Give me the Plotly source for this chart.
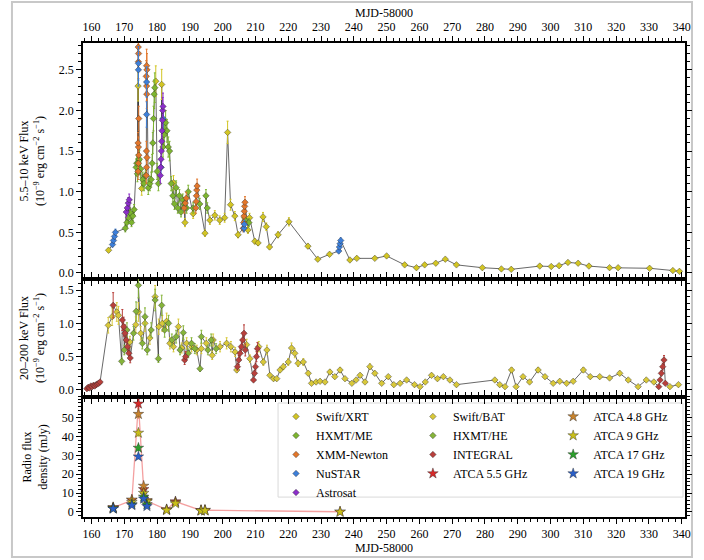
import plotly.graph_objects as go

# ---------------- 5.5-10 keV (top panel) ----------------
xrt_t = [165.2, 174.2, 175.3, 179.6, 181.4, 185.0, 188.5, 191.0, 194.6, 196.1, 197.6, 199.1, 200.6,
         201.5, 202.4, 203.7, 204.7, 206.7, 207.7, 208.2, 209.8, 210.8, 212.3, 213.3, 214.3, 216.9,
         220.2, 226.0, 229.0, 232.6, 238.8, 240.9, 246.4, 250.0, 255.5, 259.1, 261.6, 265.0, 267.9,
         271.3, 279.2, 285.0, 288.0, 296.7, 300.2, 302.6, 305.3, 308.4, 311.7, 318.0, 320.6, 330.2,
         337.3, 339.3]
xrt_v = [0.28, 2.30, 1.04, 2.36, 2.32, 1.11, 0.62, 0.73, 0.49, 0.65, 0.71, 0.65, 0.68,
         1.73, 0.84, 0.70, 0.47, 0.68, 0.53, 0.68, 0.39, 0.37, 0.69, 0.57, 0.32, 0.47,
         0.63, 0.33, 0.17, 0.23, 0.16, 0.18, 0.18, 0.21, 0.10, 0.065, 0.10, 0.12, 0.17,
         0.10, 0.065, 0.05, 0.045, 0.085, 0.08, 0.09, 0.13, 0.12, 0.085, 0.065, 0.065, 0.058,
         0.03, 0.02]

me_t = [170.3, 170.8, 171.3, 171.8, 172.2, 172.6, 173.0, 173.6, 173.8, 174.0, 174.6, 175.0, 175.6,
        176.0, 176.4, 177.3, 177.8, 178.2, 178.5, 178.7, 178.9, 179.1, 179.3, 180.0, 180.4, 181.8,
        182.2, 182.6, 183.0, 183.4, 183.8, 184.3, 184.8, 185.3, 185.8, 186.3, 186.8, 187.3, 187.8,
        188.2, 189.0, 189.5, 191.0, 193.0, 194.9, 195.3, 206.8, 208.0]
me_v = [0.55, 0.62, 0.68, 0.74, 0.62, 0.70, 0.78, 1.30, 1.35, 1.22, 1.40, 1.28, 1.15,
        1.10, 1.20, 1.05, 1.10, 1.15, 1.35, 1.60, 1.90, 2.20, 2.28, 1.25, 1.10, 1.55,
        1.70, 1.85, 1.75, 1.55, 1.50, 1.10, 0.95, 0.85, 1.05, 0.80, 0.95, 0.75, 0.90,
        0.85, 0.80, 1.00, 0.80, 0.85, 0.95, 0.80, 0.65, 0.62]

xmm_t = [174.20, 174.30, 174.40, 174.30, 174.20, 174.40, 174.30, 174.35, 174.25,
         176.70, 176.80, 176.90, 176.75, 176.85, 176.80, 176.70, 176.90, 176.80,
         188.30, 188.60, 188.90,
         191.80, 191.90, 192.00, 192.10, 192.20,
         206.30, 206.40, 206.50, 206.60, 206.70, 206.80]
xmm_v = [1.25, 1.35, 1.45, 1.55, 1.60, 1.90, 2.60, 2.70, 2.78,
         1.20, 1.30, 1.42, 1.50, 2.20, 2.30, 2.42, 2.50, 2.55,
         0.80, 0.86, 0.92,
         0.80, 0.88, 0.95, 1.02, 1.07,
         0.55, 0.62, 0.70, 0.76, 0.82, 0.87]

nustar_t = [166.4, 166.7, 167.0, 167.3, 174.3, 174.3, 176.8, 176.8, 181.2, 181.8, 206.5, 206.6,
            235.4, 235.6, 235.8, 236.0]
nustar_v = [0.35, 0.40, 0.45, 0.50, 2.50, 2.58, 2.35, 1.95, 1.30, 1.90, 0.55, 0.60,
            0.27, 0.32, 0.36, 0.40]

astro_t = [170.6, 170.9, 171.2, 171.5, 181.0, 181.1, 181.2, 181.3, 181.4, 181.5, 181.6, 181.7, 181.8]
astro_v = [0.75, 0.80, 0.86, 0.90, 1.20, 1.30, 1.40, 1.50, 1.62, 1.75, 1.88, 2.00, 2.05]

# ---------------- 20-200 keV (middle panel) ----------------
bat_t = [165.1, 166.3, 167.7, 168.2, 171.7, 173.5, 174.3, 175.0, 176.3, 177.8, 179.4, 180.5, 181.6,
         182.9, 183.9, 185.0, 186.5, 187.5, 189.0, 190.5, 192.1, 193.5, 195.0, 196.8, 197.1, 199.2,
         201.2, 202.5, 203.8, 204.3, 207.3, 208.3, 211.0, 212.4, 213.5, 214.4, 215.5, 216.5, 217.5,
         218.5, 220.0, 221.0, 222.0, 223.0, 224.6, 226.1, 227.1, 228.5, 229.7, 231.2, 232.7, 234.2,
         235.8, 237.3, 239.4, 240.7, 241.9, 243.4, 244.9, 246.4, 248.5, 250.5, 252.2, 254.1, 256.1,
         258.5, 260.2, 261.8, 263.7, 265.5, 267.3, 269.3, 271.3, 283.0, 284.5, 286.1, 288.1, 289.5,
         291.6, 293.6, 296.2, 298.3, 300.8, 302.8, 304.9, 306.9, 310.0, 312.1, 315.0, 318.0, 321.1,
         323.7, 326.7, 329.2, 331.5, 336.4, 339.0]
bat_v = [0.97, 1.10, 1.17, 1.12, 0.72, 0.98, 1.17, 0.85, 1.00, 0.78, 1.40, 0.95, 1.00,
         1.03, 0.70, 0.65, 0.95, 0.63, 0.70, 0.65, 0.60, 0.62, 0.70, 0.52, 0.75, 0.65,
         0.70, 0.65, 0.57, 0.30, 0.68, 0.47, 0.65, 0.42, 0.60, 0.22, 0.17, 0.17, 0.30,
         0.35, 0.42, 0.63, 0.55, 0.40, 0.42, 0.25, 0.10, 0.12, 0.13, 0.12, 0.27, 0.20,
         0.30, 0.17, 0.10, 0.15, 0.22, 0.12, 0.35, 0.25, 0.10, 0.20, 0.08, 0.10, 0.15,
         0.08, 0.05, 0.12, 0.22, 0.17, 0.20, 0.15, 0.08, 0.15, 0.08, 0.05, 0.30, 0.05,
         0.20, 0.12, 0.30, 0.20, 0.10, 0.13, 0.10, 0.13, 0.30, 0.20, 0.20, 0.18, 0.25,
         0.15, 0.05, 0.15, 0.12, 0.05, 0.08]

he_t = [169.2, 170.0, 170.8, 172.8, 173.6, 174.3, 175.5, 176.3, 177.0, 178.2, 179.4, 180.4, 181.4,
        182.3, 183.5, 184.5, 185.8, 187.0, 188.0, 189.5, 190.5, 191.5, 193.1, 193.5, 195.5, 196.5,
        198.0]
he_v = [0.43, 0.60, 0.90, 0.85, 1.18, 1.57, 0.70, 1.10, 0.60, 0.90, 1.35, 0.47, 1.27,
        0.90, 1.00, 0.75, 0.80, 0.60, 0.86, 0.55, 0.70, 0.62, 0.32, 0.80, 0.60, 0.75,
        0.62]

integral_t = [158.6, 159.0, 159.4, 159.8, 160.2, 160.6, 161.0, 161.4, 161.8, 162.2, 162.6,
              166.6, 169.4, 169.8, 170.2, 170.6, 171.0, 171.4, 171.8, 188.4, 188.7,
              204.5, 204.9, 205.3, 205.7, 206.1, 206.5, 206.9,
              209.4, 209.7, 210.0, 210.3, 210.6,
              333.0, 333.4, 333.8, 334.2, 334.6, 335.0]
integral_v = [0.02, 0.04, 0.03, 0.06, 0.05, 0.07, 0.06, 0.08, 0.09, 0.10, 0.12,
              1.27, 1.05, 0.95, 0.85, 0.75, 0.65, 0.55, 0.48, 0.45, 0.50,
              0.35, 0.45, 0.55, 0.65, 0.75, 0.85, 0.60,
              0.15, 0.25, 0.35, 0.50, 0.62,
              0.05, 0.15, 0.25, 0.35, 0.45, 0.10]

# ---------------- Radio (bottom panel) ----------------
a48_t = [166.6, 172.3, 174.3, 175.9, 176.9, 182.9, 185.6, 193.4, 194.6]
a48_v = [2.4, 6.5, 52.0, 13.8, 6.2, 1.3, 5.2, 0.9, 1.0]
a55_t = [166.6, 172.3, 174.3, 175.9, 176.9, 182.9, 185.6, 193.4, 194.6, 235.8]
a55_v = [2.3, 6.2, 57.5, 12.0, 5.8, 1.2, 5.5, 0.8, 0.9, 0.1]
a9_t = [166.6, 172.3, 174.3, 175.9, 176.9, 182.9, 185.6, 193.4, 194.6, 235.8]
a9_v = [2.0, 5.2, 42.0, 10.0, 5.5, 0.9, 4.5, 0.6, 0.7, 0.0]
a17_t = [166.6, 172.3, 174.3, 175.9, 176.9]
a17_v = [1.8, 4.0, 34.0, 8.0, 4.0]
a19_t = [166.6, 172.3, 174.3, 175.9, 176.9]
a19_v = [1.7, 3.5, 29.4, 7.0, 3.0]

x_ticks = list(range(160, 341, 10))

FONT = "Liberation Serif, Times New Roman, serif"
fig = go.Figure()


def sorted_line(pairs_list):
    pts = []
    for t, v in pairs_list:
        pts += list(zip(t, v))
    pts.sort(key=lambda p: p[0])
    return [p[0] for p in pts], [p[1] for p in pts]


# connecting lines
lt, lv = sorted_line([(xrt_t, xrt_v), (me_t, me_v), (xmm_t, xmm_v), (nustar_t, nustar_v), (astro_t, astro_v)])
fig.add_trace(go.Scatter(x=lt, y=lv, mode="lines", line=dict(color="rgba(40,40,40,0.7)", width=1),
                         showlegend=False, hoverinfo="skip", xaxis="x", yaxis="y"))
mt, mv = sorted_line([(bat_t, bat_v), (he_t, he_v), (integral_t, integral_v)])
fig.add_trace(go.Scatter(x=mt, y=mv, mode="lines", line=dict(color="rgba(40,40,40,0.7)", width=1),
                         showlegend=False, hoverinfo="skip", xaxis="x2", yaxis="y2"))
fig.add_trace(go.Scatter(x=a55_t, y=a55_v, mode="lines", line=dict(color="rgba(240,120,120,0.7)", width=1.3),
                         showlegend=False, hoverinfo="skip", xaxis="x3", yaxis="y3"))


def add_pts(t, v, name, color, xa, ya, legend, symbol="diamond", size=5, err=8):
    fig.add_trace(go.Scatter(
        x=t, y=v, mode="markers", name=name, xaxis=xa, yaxis=ya, legend=legend,
        marker=dict(symbol=symbol, size=size, color=color, line=dict(color="rgba(40,40,40,0.8)", width=0.5)),
        error_y=dict(type="percent", value=err, color=color, thickness=1, width=1),
    ))


# column 1
add_pts(xrt_t, xrt_v, "Swift/XRT", "#d2c524", "x", "y", "legend")
add_pts(me_t, me_v, "HXMT/ME", "#7db52f", "x", "y", "legend")
add_pts(xmm_t, xmm_v, "XMM-Newton", "#e2762b", "x", "y", "legend")
add_pts(nustar_t, nustar_v, "NuSTAR", "#3d7fd9", "x", "y", "legend")
add_pts(astro_t, astro_v, "Astrosat", "#8b2fc9", "x", "y", "legend")
# column 2
add_pts(bat_t, bat_v, "Swift/BAT", "#d8c83a", "x2", "y2", "legend2", err=12)
add_pts(he_t, he_v, "HXMT/HE", "#86b43a", "x2", "y2", "legend2", err=12)
add_pts(integral_t, integral_v, "INTEGRAL", "#b8403c", "x2", "y2", "legend2", err=15)
add_pts(a55_t, a55_v, "ATCA 5.5 GHz", "#d62a2a", "x3", "y3", "legend2", symbol="star", size=8, err=4)
# column 3
add_pts(a48_t, a48_v, "ATCA 4.8 GHz", "#c7832e", "x3", "y3", "legend3", symbol="star", size=8, err=4)
add_pts(a9_t, a9_v, "ATCA 9 GHz", "#c9bf1a", "x3", "y3", "legend3", symbol="star", size=8, err=4)
add_pts(a17_t, a17_v, "ATCA 17 GHz", "#2ca02c", "x3", "y3", "legend3", symbol="star", size=8, err=4)
add_pts(a19_t, a19_v, "ATCA 19 GHz", "#2b5fc7", "x3", "y3", "legend3", symbol="star", size=8, err=4)

axis_common = dict(showline=True, linecolor="black", linewidth=1.5, mirror="allticks",
                   ticks="outside", ticklen=5, tickwidth=1, tickcolor="black",
                   showgrid=False, zeroline=False, automargin=False,
                   tickfont=dict(family=FONT, size=12, color="black"))
xcommon = dict(axis_common, range=[157.4, 341], tickmode="array", tickvals=x_ticks,
               minor=dict(ticks="outside", dtick=2, tick0=160, ticklen=3, tickcolor="black"))

leg_common = dict(y=0.2426, xanchor="left", yanchor="top", bgcolor="rgba(0,0,0,0)",
                  borderwidth=0, font=dict(family=FONT, size=12), tracegroupgap=0,
                  itemsizing="trace")

fig.update_layout(
    width=704, height=560,
    margin=dict(l=83, r=19, t=43, b=43, autoexpand=False),
    paper_bgcolor="white", plot_bgcolor="white",
    font=dict(family=FONT, size=12, color="black"),
    xaxis=dict(xcommon, domain=[0, 1], anchor="y", side="top",
               title=dict(text="MJD-58000", standoff=0, font=dict(family=FONT, size=12))),
    xaxis2=dict(xcommon, domain=[0, 1], anchor="y2", matches="x", showticklabels=False),
    xaxis3=dict(xcommon, domain=[0, 1], anchor="y3", matches="x", side="bottom",
                title=dict(text="MJD-58000", standoff=2, font=dict(family=FONT, size=12))),
    yaxis=dict(axis_common, domain=[0.5021, 1], anchor="x", range=[-0.074, 2.83],
               tickmode="array", tickvals=[0, 0.5, 1.0, 1.5, 2.0, 2.5], tickformat=".1f",
               minor=dict(ticks="outside", dtick=0.1, tick0=0, ticklen=3, tickcolor="black"),
               title=dict(text="5.5–10 keV Flux<br>(10<sup>−9</sup> erg cm<sup>−2</sup> s<sup>−1</sup>)",
                          font=dict(family=FONT, size=12), standoff=12)),
    yaxis2=dict(axis_common, domain=[0.2532, 0.5021], anchor="x2", range=[-0.105, 1.665],
                tickmode="array", tickvals=[0, 0.5, 1.0, 1.5], tickformat=".1f",
                minor=dict(ticks="outside", dtick=0.1, tick0=0, ticklen=3, tickcolor="black"),
                title=dict(text="20–200 keV Flux<br>(10<sup>−9</sup> erg cm<sup>−2</sup> s<sup>−1</sup>)",
                           font=dict(family=FONT, size=12), standoff=12)),
    yaxis3=dict(axis_common, domain=[0, 0.2532], anchor="x3", range=[-2.7, 61.1],
                tickmode="array", tickvals=[0, 10, 20, 30, 40, 50],
                minor=dict(ticks="outside", dtick=2, tick0=0, ticklen=3, tickcolor="black"),
                title=dict(text="Radio flux<br>density (mJy)", font=dict(family=FONT, size=12), standoff=12)),
    legend=dict(leg_common, x=0.3206),
    legend2=dict(leg_common, x=0.548),
    legend3=dict(leg_common, x=0.781),
    shapes=[
        dict(type="rect", xref="paper", yref="paper", x0=0.324, x1=0.9967, y0=0.042, y1=0.2405,
             line=dict(color="#d9d9d9", width=1), fillcolor="rgba(255,255,255,0.8)", layer="below"),
        dict(type="rect", xref="paper", yref="paper", x0=-0.118, x1=1.0116, y0=-0.0844, y1=1.0865,
             line=dict(color="#c8c8c8", width=2), fillcolor="rgba(0,0,0,0)", layer="below"),
    ],
)

fig.write_html("out.html")
